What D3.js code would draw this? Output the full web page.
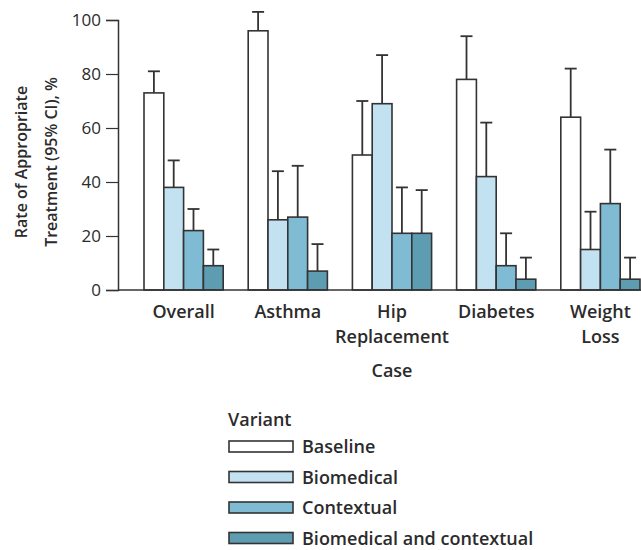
<!DOCTYPE html>
<html>
<head>
<meta charset="utf-8">
<script src="https://cdn.jsdelivr.net/npm/d3@7"></script>
<style>
  body { margin: 0; background: #fff; }
  text { font-family: "Open Sans", sans-serif; fill: #2b2b2b; }
</style>
</head>
<body>
<div id="chart"></div>
<script>
// data
var cases = ["Overall", "Asthma", "Hip Replacement", "Diabetes", "Weight Loss"]
var variants = ["Baseline", "Biomedical", "Contextual", "Biomedical and contextual"]
var rates = [
  [73, 38, 22, 9],   // Overall
  [96, 26, 27, 7],   // Asthma
  [50, 69, 21, 21],  // Hip Replacement
  [78, 42, 9, 4],    // Diabetes
  [64, 15, 32, 4]    // Weight Loss
]
var upperCI = [
  [81, 48, 30, 15],
  [103, 44, 46, 17],
  [70, 87, 38, 37],
  [94, 62, 21, 12],
  [82, 29, 52, 12]
]
var yTicks = [0, 20, 40, 60, 80, 100]
var colors = ["#ffffff", "#c2e2f1", "#7fbcd4", "#5e9db1"]

var width = 641, height = 550

var svg = d3.select("#chart").append("svg")
  .attr("width", width)
  .attr("height", height)

var y = d3.scaleLinear().domain([0, 100]).range([290, 20])

var x0 = d3.scaleBand()
  .domain(cases)
  .range([144, 640])
  .paddingInner(0.24)
  .paddingOuter(0)

var x1 = d3.scaleBand()
  .domain(variants)
  .range([0, x0.bandwidth()])

var color = d3.scaleOrdinal().domain(variants).range(colors)

// y axis
var yAxis = svg.append("g")
  .attr("transform", "translate(118,0)")
  .call(d3.axisLeft(y).tickValues(yTicks).tickSize(12).tickPadding(5))
yAxis.select(".domain").attr("stroke", "#333").attr("stroke-width", 1.5)
yAxis.selectAll(".tick line").attr("stroke", "#333").attr("stroke-width", 1.2)
yAxis.selectAll(".tick text")
  .style("font-family", "'Open Sans', sans-serif")
  .style("font-size", "17px")
  .attr("fill", "#333")

// y title
var yTitle = svg.append("text")
  .attr("transform", "translate(0,162) rotate(-90)")
  .attr("text-anchor", "middle")
  .style("font-size", "16px")
  .style("font-weight", "600")
yTitle.append("tspan").attr("x", 0).attr("y", 27).text("Rate of Appropriate")
yTitle.append("tspan").attr("x", 0).attr("y", 57).text("Treatment (95% CI), %")

// groups of bars
var groups = svg.selectAll("g.case")
  .data(cases)
  .enter()
  .append("g")
  .attr("class", "case")
  .attr("transform", function(d) { return "translate(" + x0(d) + ",0)" })

groups.selectAll("g.bar")
  .data(function(d, i) {
    return variants.map(function(v, j) { return {v: v, val: rates[i][j], hi: upperCI[i][j]} })
  })
  .enter()
  .append("g")
  .attr("class", "bar")
  .each(function(d) {
    var g = d3.select(this)
    var cx = x1(d.v) + x1.bandwidth() / 2
    g.append("line")
      .attr("x1", cx).attr("x2", cx)
      .attr("y1", y(d.val)).attr("y2", y(d.hi))
      .attr("stroke", "#333").attr("stroke-width", 1.8)
    g.append("line")
      .attr("x1", cx - 6).attr("x2", cx + 6)
      .attr("y1", y(d.hi)).attr("y2", y(d.hi))
      .attr("stroke", "#333").attr("stroke-width", 1.8)
    g.append("rect")
      .attr("x", x1(d.v))
      .attr("y", y(d.val))
      .attr("width", x1.bandwidth())
      .attr("height", y(0) - y(d.val))
      .attr("fill", color(d.v))
      .attr("stroke", "#333")
      .attr("stroke-width", 1.6)
  })

// x axis baseline
svg.append("line")
  .attr("x1", 118).attr("x2", 641)
  .attr("y1", y(0)).attr("y2", y(0))
  .attr("stroke", "#333").attr("stroke-width", 1.5)

// case labels, wrapped on the space
svg.selectAll("text.caselab")
  .data(cases)
  .enter()
  .append("text")
  .attr("class", "caselab")
  .attr("text-anchor", "middle")
  .style("font-size", "18px")
  .style("font-weight", "600")
  .each(function(d) {
    var words = d.split(" ")
    var t = d3.select(this)
    words.forEach(function(w, k) {
      t.append("tspan")
        .attr("x", x0(d) + x0.bandwidth() / 2)
        .attr("y", 318 + k * 25)
        .text(w)
    })
  })

svg.append("text")
  .attr("x", x0("Hip Replacement") + x0.bandwidth() / 2)
  .attr("y", 377)
  .attr("text-anchor", "middle")
  .style("font-size", "18px")
  .style("font-weight", "600")
  .text("Case")

// legend
svg.append("text")
  .attr("x", 228).attr("y", 426)
  .style("font-size", "18px")
  .style("font-weight", "600")
  .text("Variant")

var legend = svg.selectAll("g.leg")
  .data(variants)
  .enter()
  .append("g")
  .attr("class", "leg")
  .attr("transform", function(d, i) { return "translate(229," + (441 + i * 30.5) + ")" })

legend.append("rect")
  .attr("width", 64).attr("height", 11)
  .attr("fill", function(d) { return color(d) })
  .attr("stroke", "#333").attr("stroke-width", 1.6)

legend.append("text")
  .attr("x", 73).attr("y", 12)
  .style("font-size", "18px")
  .style("font-weight", "600")
  .text(function(d) { return d })
</script>
</body>
</html>
